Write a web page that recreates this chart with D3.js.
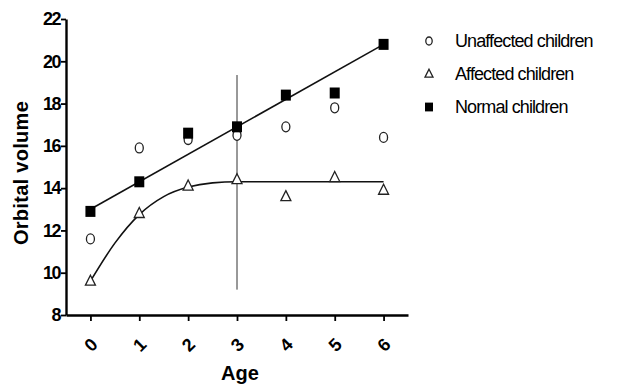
<!DOCTYPE html>
<html>
<head>
<meta charset="utf-8">
<script src="https://cdn.jsdelivr.net/npm/d3@7"></script>
<style>
  body { margin: 0; background: #fff; }
  text { font-family: "Liberation Sans", Arial, sans-serif; }
</style>
</head>
<body>
<div id="chart"></div>
<script>
var ages = [0, 1, 2, 3, 4, 5, 6];
var unaffected = [11.6, 15.9, 16.3, 16.5, 16.9, 17.8, 16.4];
var affected = [9.6, 12.8, 14.1, 14.4, 13.6, 14.5, 13.9];
var normal = [12.9, 14.3, 16.6, 16.9, 18.4, 18.5, 20.8];

// fitted lines
var normalFitX = [0, 6];
var normalFitY = [13.0, 20.8];
var affectedFitX = [0, 0.5, 1, 1.5, 2, 2.5, 3, 6];
var affectedFitY = [9.6, 11.4, 12.75, 13.6, 14.05, 14.25, 14.3, 14.3];
var markerAge = 3;
var markerRange = [9.2, 19.35];

var yTicks = [8, 10, 12, 14, 16, 18, 20, 22];
var legendLabels = ['Unaffected children', 'Affected children', 'Normal children'];

var width = 621, height = 385;

var svg = d3.select('#chart')
    .append('svg')
    .attr('width', width)
    .attr('height', height);

var x = d3.scaleLinear().domain([-0.5, 6.5]).range([66, 408]);
var y = d3.scaleLinear().domain([8, 22]).range([315, 19]);

//Axes
var xAxis = svg.append('g')
    .attr('transform', 'translate(0,315)')
    .call(d3.axisBottom(x).tickValues(ages).tickFormat(d3.format('d')).tickSize(6).tickSizeOuter(0));
xAxis.select('.domain').attr('stroke-width', 2.4);
xAxis.selectAll('.tick line').attr('stroke-width', 1.8);
xAxis.selectAll('.tick text')
    .attr('font-size', 18)
    .attr('font-weight', 'bold')
    .attr('text-anchor', 'middle')
    .attr('y', 0)
    .attr('dy', 0)
    .attr('transform', 'translate(0,30) rotate(-45)')
    .attr('dominant-baseline', 'central');

var yAxis = svg.append('g')
    .attr('transform', 'translate(66,0)')
    .call(d3.axisLeft(y).tickValues(yTicks).tickSize(5).tickSizeOuter(0));
yAxis.select('.domain').attr('stroke-width', 2.4);
yAxis.selectAll('.tick line').attr('stroke-width', 1.8);
yAxis.selectAll('.tick text')
    .attr('font-size', 18)
    .attr('font-weight', 'bold')
    .attr('x', -6)
    .attr('letter-spacing', -1.5);

svg.append('text')
    .attr('transform', 'translate(28,173) rotate(-90)')
    .attr('text-anchor', 'middle')
    .attr('font-size', 20)
    .attr('font-weight', 'bold')
    .attr('letter-spacing', 0.3)
    .text('Orbital volume');

svg.append('text')
    .attr('x', 240)
    .attr('y', 380)
    .attr('text-anchor', 'middle')
    .attr('font-size', 20)
    .attr('font-weight', 'bold')
    .text('Age');

//Vertical marker at age 3
svg.append('line')
    .attr('x1', x(markerAge)).attr('x2', x(markerAge))
    .attr('y1', y(markerRange[0])).attr('y2', y(markerRange[1]))
    .attr('stroke', '#333')
    .attr('stroke-width', 1);

//Fitted lines
var line = d3.line()
    .x(function(d){ return x(d[0]); })
    .y(function(d){ return y(d[1]); });

svg.append('path')
    .attr('d', line(d3.zip(normalFitX, normalFitY)))
    .attr('fill', 'none')
    .attr('stroke', '#111')
    .attr('stroke-width', 1.6);

svg.append('path')
    .attr('d', line.curve(d3.curveMonotoneX)(d3.zip(affectedFitX, affectedFitY)))
    .attr('fill', 'none')
    .attr('stroke', '#111')
    .attr('stroke-width', 1.6);

//Markers
function drawSymbol(g, type, cx, cy, s){
    s = s || 1;
    if (type === 'circle') {
        g.append('ellipse')
            .attr('cx', cx).attr('cy', cy)
            .attr('rx', 4 * s).attr('ry', 5 * s)
            .attr('fill', '#fff')
            .attr('stroke', '#222')
            .attr('stroke-width', 1.3);
    } else if (type === 'triangle') {
        g.append('path')
            .attr('d', 'M' + cx + ',' + (cy - 6 * s) + 'L' + (cx + 5 * s) + ',' + (cy + 4 * s) + 'L' + (cx - 5 * s) + ',' + (cy + 4 * s) + 'Z')
            .attr('fill', '#fff')
            .attr('stroke', '#222')
            .attr('stroke-width', 1.3);
    } else {
        g.append('rect')
            .attr('x', cx - 5 * s).attr('y', cy - 5.5 * s)
            .attr('width', 10 * s).attr('height', 11 * s)
            .attr('fill', '#000');
    }
}

var marks = svg.append('g');
ages.forEach(function(a, i){
    drawSymbol(marks, 'circle', x(a), y(unaffected[i]));
});
ages.forEach(function(a, i){
    drawSymbol(marks, 'triangle', x(a), y(affected[i]));
});
ages.forEach(function(a, i){
    drawSymbol(marks, 'square', x(a), y(normal[i]));
});

//Legend
var types = ['circle', 'triangle', 'square'];
var legend = svg.append('g');
legendLabels.forEach(function(label, i){
    var ly = 41 + i * 33;
    drawSymbol(legend, types[i], 429, ly, 0.8);
    legend.append('text')
        .attr('x', 455)
        .attr('y', ly)
        .attr('dy', '0.35em')
        .attr('font-size', 18)
        .attr('letter-spacing', -0.9)
        .text(label);
});
</script>
</body>
</html>
